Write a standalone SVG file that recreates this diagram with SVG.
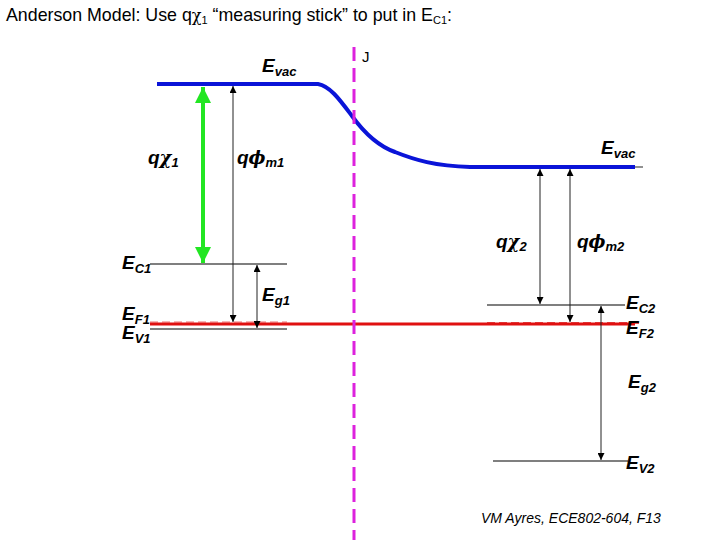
<svg xmlns="http://www.w3.org/2000/svg" width="720" height="540" viewBox="0 0 720 540">
<style>
text{font-family:"Liberation Sans",Arial,sans-serif;fill:#000}
.lab{font-weight:bold;font-style:italic;font-size:19px}
.sub{font-size:13px}
.lvl{stroke:#555;stroke-width:1.3;fill:none}
.thin{stroke:#222;stroke-width:1;fill:none;marker-start:url(#ah);marker-end:url(#ah)}
</style>
<defs>
<marker id="ah" viewBox="0 0 10 10" refX="10" refY="5" markerWidth="7" markerHeight="7" orient="auto-start-reverse" markerUnits="userSpaceOnUse">
<path d="M0,0 L10,5 L0,10 z" fill="#000"/>
</marker>
<marker id="gh" viewBox="0 0 10 10" refX="10" refY="5" markerWidth="16" markerHeight="16" orient="auto-start-reverse" markerUnits="userSpaceOnUse">
<path d="M0,0 L10,5 L0,10 z" fill="#22e622"/>
</marker>
</defs>
<rect width="720" height="540" fill="#fff"/>
<text x="6" y="21" font-size="17.8">Anderson Model: Use q<tspan font-family="'DejaVu Serif',serif" font-size="16">χ</tspan><tspan font-size="11" dy="3">1</tspan><tspan dy="-3"> “measuring stick” to put in E</tspan><tspan font-size="11" dy="3">C1</tspan><tspan dy="-3">:</tspan></text>
<g id="levels">
<line class="lvl" x1="150" y1="264" x2="287" y2="264"/>
<line class="lvl" x1="150" y1="329" x2="287" y2="329"/>
<line class="lvl" x1="487" y1="305" x2="625" y2="305"/>
<line class="lvl" x1="493" y1="461" x2="628" y2="461"/>
<line class="lvl" x1="630" y1="167" x2="643" y2="167"/>
<line x1="150" y1="322" x2="287" y2="322" stroke="#f4a0a0" stroke-width="1.5" stroke-dasharray="8,4"/>
<line x1="487" y1="323" x2="642" y2="323" stroke="#e05050" stroke-width="2" stroke-dasharray="8,4"/>
<line id="EF" x1="150" y1="324" x2="635" y2="324" stroke="#e01010" stroke-width="3.2"/>
<path id="Evac" d="M157,84 H318 C330,86 340,100 352,116 C365,134 378,146 395,152 C415,160 435,166 470,167 H635" fill="none" stroke="#0a14d8" stroke-width="4"/>
</g>
<line id="J" x1="354" y1="47" x2="354" y2="540" stroke="#dd22dd" stroke-width="3" stroke-dasharray="14,7"/>
<g id="connectors">
<line x1="203" y1="87" x2="203" y2="263" stroke="#22e622" stroke-width="4" marker-start="url(#gh)" marker-end="url(#gh)"/>
<line class="thin" x1="233" y1="86" x2="233" y2="322"/>
<line class="thin" x1="257" y1="265" x2="257" y2="328"/>
<line class="thin" x1="540" y1="169" x2="540" y2="304"/>
<line class="thin" x1="570" y1="169" x2="570" y2="322"/>
<line class="thin" x1="601" y1="306" x2="601" y2="460"/>
</g>
<g id="labels">
<text x="362" y="62" font-size="15">J</text>
<text class="lab" x="262" y="72">E<tspan class="sub" dy="4">vac</tspan></text>
<text class="lab" x="601" y="154">E<tspan class="sub" dy="4">vac</tspan></text>
<text class="lab" x="148" y="164">q<tspan font-family="'DejaVu Serif',serif" font-size="18">χ</tspan><tspan class="sub" dy="3">1</tspan></text>
<text class="lab" x="237" y="164">q<tspan font-family="'DejaVu Serif',serif" font-size="18">ϕ</tspan><tspan class="sub" dy="3">m1</tspan></text>
<text class="lab" x="496" y="248">q<tspan font-family="'DejaVu Serif',serif" font-size="18">χ</tspan><tspan class="sub" dy="3">2</tspan></text>
<text class="lab" x="577" y="248">q<tspan font-family="'DejaVu Serif',serif" font-size="18">ϕ</tspan><tspan class="sub" dy="3">m2</tspan></text>
<text class="lab" x="122" y="269">E<tspan class="sub" dy="4">C1</tspan></text>
<text class="lab" x="262" y="301">E<tspan class="sub" dy="4">g1</tspan></text>
<text class="lab" x="122" y="320">E<tspan class="sub" dy="4">F1</tspan></text>
<text class="lab" x="122" y="339">E<tspan class="sub" dy="4">V1</tspan></text>
<text class="lab" x="626" y="309">E<tspan class="sub" dy="4">C2</tspan></text>
<text class="lab" x="626" y="334">E<tspan class="sub" dy="4">F2</tspan></text>
<text class="lab" x="628" y="388">E<tspan class="sub" dy="4">g2</tspan></text>
<text class="lab" x="626" y="469">E<tspan class="sub" dy="4">V2</tspan></text>
<text x="481" y="523" font-size="14" font-style="italic">VM Ayres, ECE802-604, F13</text>
</g>
</svg>
